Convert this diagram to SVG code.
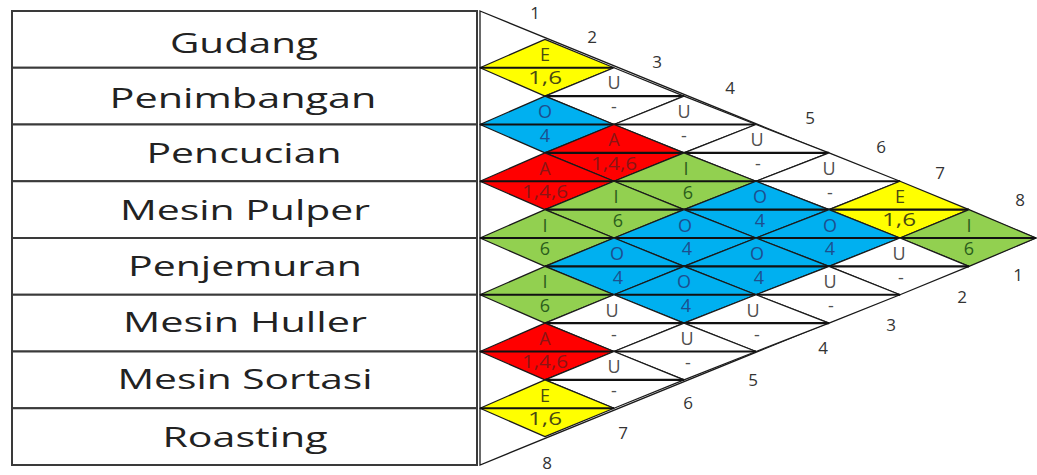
<svg xmlns="http://www.w3.org/2000/svg" width="1037" height="475" viewBox="0 0 1037 475">
<style>
.bg{fill:#ffffff}
.cell{fill:#ffffff;stroke:#3a3a3a;stroke-width:2}
.lbl{font-family:"Open Sans","Liberation Sans",sans-serif;font-size:28px;fill:#222222;text-anchor:middle}
.d{stroke:#1a1a1a;stroke-width:1.3;stroke-linejoin:round}
.mid{stroke:#111111;stroke-width:2.2}
.Y{fill:#FFFF00}.B{fill:#00B0F0}.G{fill:#92D050}.R{fill:#FF0000}.W{fill:#FFFFFF}
.t{font-family:"Open Sans","Liberation Sans",sans-serif;font-size:18px;text-anchor:middle}
.tY{fill:#4a4a12}.tB{fill:#1d4f8f}.tG{fill:#2b5e1c}.tR{fill:#8a1515}.tW{fill:#505050}
.num{font-family:"Open Sans","Liberation Sans",sans-serif;font-size:17px;fill:#333333;text-anchor:middle}
.edge{fill:none;stroke:#1a1a1a;stroke-width:1.3}
</style>
<rect class="bg" x="0" y="0" width="1037" height="475"/>

<g id="table">
<g id="row-1"><rect class="cell" x="12" y="11" width="465" height="56.75"/><text class="lbl" x="244" y="53" textLength="148" lengthAdjust="spacingAndGlyphs">Gudang</text></g>
<g id="row-2"><rect class="cell" x="12" y="67.75" width="465" height="56.75"/><text class="lbl" x="243" y="108" textLength="267" lengthAdjust="spacingAndGlyphs">Penimbangan</text></g>
<g id="row-3"><rect class="cell" x="12" y="124.5" width="465" height="56.75"/><text class="lbl" x="244" y="163" textLength="195" lengthAdjust="spacingAndGlyphs">Pencucian</text></g>
<g id="row-4"><rect class="cell" x="12" y="181.25" width="465" height="56.75"/><text class="lbl" x="245" y="220" textLength="250" lengthAdjust="spacingAndGlyphs">Mesin Pulper</text></g>
<g id="row-5"><rect class="cell" x="12" y="238" width="465" height="56.75"/><text class="lbl" x="245" y="276" textLength="234" lengthAdjust="spacingAndGlyphs">Penjemuran</text></g>
<g id="row-6"><rect class="cell" x="12" y="294.75" width="465" height="56.75"/><text class="lbl" x="245" y="332" textLength="244" lengthAdjust="spacingAndGlyphs">Mesin Huller</text></g>
<g id="row-7"><rect class="cell" x="12" y="351.5" width="465" height="56.75"/><text class="lbl" x="245" y="389" textLength="255" lengthAdjust="spacingAndGlyphs">Mesin Sortasi</text></g>
<g id="row-8"><rect class="cell" x="12" y="408.25" width="465" height="56.75"/><text class="lbl" x="245" y="447" textLength="165" lengthAdjust="spacingAndGlyphs">Roasting</text></g>
</g>

<g id="chart-outline">
<polygon class="edge" points="480,11 1036,238 480,465"/>
</g>

<g id="d-1-2"><polygon class="d Y" points="480,67.75 545,39.4 614,67.75 545,96.1"/><line class="mid" x1="480" y1="67.75" x2="614" y2="67.75"/><text class="t tY" x="545" y="61">E</text><text class="t tY" x="545" y="84" textLength="34" lengthAdjust="spacingAndGlyphs">1,6</text></g>
<g id="d-1-3"><polygon class="d W" points="545,96.1 614,67.75 684,96.1 614,124.5"/><line class="mid" x1="545" y1="96.1" x2="684" y2="96.1"/><text class="t tW" x="614" y="89">U</text><text class="t tW" x="614" y="113">-</text></g>
<g id="d-1-4"><polygon class="d W" points="614,124.5 684,96.1 756,124.5 684,152.9"/><line class="mid" x1="614" y1="124.5" x2="756" y2="124.5"/><text class="t tW" x="684" y="118">U</text><text class="t tW" x="684" y="142">-</text></g>
<g id="d-1-5"><polygon class="d W" points="684,152.9 756,124.5 829,152.9 756,181.25"/><line class="mid" x1="684" y1="152.9" x2="829" y2="152.9"/><text class="t tW" x="757" y="146">U</text><text class="t tW" x="758" y="170">-</text></g>
<g id="d-1-6"><polygon class="d W" points="756,181.25 829,152.9 900,181.25 829,209.6"/><line class="mid" x1="756" y1="181.25" x2="900" y2="181.25"/><text class="t tW" x="829" y="175">U</text><text class="t tW" x="830" y="199">-</text></g>
<g id="d-1-7"><polygon class="d Y" points="829,209.6 900,181.25 969,209.6 900,238"/><line class="mid" x1="829" y1="209.6" x2="969" y2="209.6"/><text class="t tY" x="900" y="203">E</text><text class="t tY" x="899" y="226" textLength="34" lengthAdjust="spacingAndGlyphs">1,6</text></g>
<g id="d-1-8"><polygon class="d G" points="900,238 969,209.6 1036,238 969,266.4"/><line class="mid" x1="900" y1="238" x2="1036" y2="238"/><text class="t tG" x="969" y="232">I</text><text class="t tG" x="969" y="255">6</text></g>

<g id="d-2-3"><polygon class="d B" points="480,124.5 545,96.1 614,124.5 545,152.9"/><line class="mid" x1="480" y1="124.5" x2="614" y2="124.5"/><text class="t tB" x="545" y="118">O</text><text class="t tB" x="545" y="142">4</text></g>
<g id="d-2-4"><polygon class="d R" points="545,152.9 614,124.5 684,152.9 614,181.25"/><line class="mid" x1="545" y1="152.9" x2="684" y2="152.9"/><text class="t tR" x="614" y="146">A</text><text class="t tR" x="614" y="170" textLength="46" lengthAdjust="spacingAndGlyphs">1,4,6</text></g>
<g id="d-2-5"><polygon class="d G" points="614,181.25 684,152.9 756,181.25 684,209.6"/><line class="mid" x1="614" y1="181.25" x2="756" y2="181.25"/><text class="t tG" x="686" y="175">I</text><text class="t tG" x="688" y="199">6</text></g>
<g id="d-2-6"><polygon class="d B" points="684,209.6 756,181.25 829,209.6 756,238"/><line class="mid" x1="684" y1="209.6" x2="829" y2="209.6"/><text class="t tB" x="760" y="203">O</text><text class="t tB" x="760" y="227">4</text></g>
<g id="d-2-7"><polygon class="d B" points="756,238 829,209.6 900,238 829,266.4"/><line class="mid" x1="756" y1="238" x2="900" y2="238"/><text class="t tB" x="830" y="232">O</text><text class="t tB" x="830" y="255">4</text></g>
<g id="d-2-8"><polygon class="d W" points="829,266.4 900,238 969,266.4 900,294.75"/><line class="mid" x1="829" y1="266.4" x2="969" y2="266.4"/><text class="t tW" x="899" y="260">U</text><text class="t tW" x="901" y="284">-</text></g>

<g id="d-3-4"><polygon class="d R" points="480,181.25 545,152.9 614,181.25 545,209.6"/><line class="mid" x1="480" y1="181.25" x2="614" y2="181.25"/><text class="t tR" x="545" y="175">A</text><text class="t tR" x="545" y="198" textLength="46" lengthAdjust="spacingAndGlyphs">1,4,6</text></g>
<g id="d-3-5"><polygon class="d G" points="545,209.6 614,181.25 684,209.6 614,238"/><line class="mid" x1="545" y1="209.6" x2="684" y2="209.6"/><text class="t tG" x="616" y="203">I</text><text class="t tG" x="618" y="227">6</text></g>
<g id="d-3-6"><polygon class="d B" points="614,238 684,209.6 756,238 684,266.4"/><line class="mid" x1="614" y1="238" x2="756" y2="238"/><text class="t tB" x="685" y="232">O</text><text class="t tB" x="687" y="255">4</text></g>
<g id="d-3-7"><polygon class="d B" points="684,266.4 756,238 829,266.4 756,294.75"/><line class="mid" x1="684" y1="266.4" x2="829" y2="266.4"/><text class="t tB" x="757" y="260">O</text><text class="t tB" x="759" y="284">4</text></g>
<g id="d-3-8"><polygon class="d W" points="756,294.75 829,266.4 900,294.75 829,323.1"/><line class="mid" x1="756" y1="294.75" x2="900" y2="294.75"/><text class="t tW" x="830" y="288">U</text><text class="t tW" x="831" y="312">-</text></g>

<g id="d-4-5"><polygon class="d G" points="480,238 545,209.6 614,238 545,266.4"/><line class="mid" x1="480" y1="238" x2="614" y2="238"/><text class="t tG" x="545" y="232">I</text><text class="t tG" x="545" y="255">6</text></g>
<g id="d-4-6"><polygon class="d B" points="545,266.4 614,238 684,266.4 614,294.75"/><line class="mid" x1="545" y1="266.4" x2="684" y2="266.4"/><text class="t tB" x="617" y="260">O</text><text class="t tB" x="618" y="284">4</text></g>
<g id="d-4-7"><polygon class="d B" points="614,294.75 684,266.4 756,294.75 684,323.1"/><line class="mid" x1="614" y1="294.75" x2="756" y2="294.75"/><text class="t tB" x="684" y="288">O</text><text class="t tB" x="686" y="312">4</text></g>
<g id="d-4-8"><polygon class="d W" points="684,323.1 756,294.75 829,323.1 756,351.5"/><line class="mid" x1="684" y1="323.1" x2="829" y2="323.1"/><text class="t tW" x="753" y="317">U</text><text class="t tW" x="757" y="341">-</text></g>

<g id="d-5-6"><polygon class="d G" points="480,294.75 545,266.4 614,294.75 545,323.1"/><line class="mid" x1="480" y1="294.75" x2="614" y2="294.75"/><text class="t tG" x="545" y="288">I</text><text class="t tG" x="545" y="312">6</text></g>
<g id="d-5-7"><polygon class="d W" points="545,323.1 614,294.75 684,323.1 614,351.5"/><line class="mid" x1="545" y1="323.1" x2="684" y2="323.1"/><text class="t tW" x="612" y="317">U</text><text class="t tW" x="614" y="341">-</text></g>
<g id="d-5-8"><polygon class="d W" points="614,351.5 684,323.1 756,351.5 684,379.9"/><line class="mid" x1="614" y1="351.5" x2="756" y2="351.5"/><text class="t tW" x="687" y="345">U</text><text class="t tW" x="688" y="369">-</text></g>

<g id="d-6-7"><polygon class="d R" points="480,351.5 545,323.1 614,351.5 545,379.9"/><line class="mid" x1="480" y1="351.5" x2="614" y2="351.5"/><text class="t tR" x="545" y="345">A</text><text class="t tR" x="545" y="368" textLength="46" lengthAdjust="spacingAndGlyphs">1,4,6</text></g>
<g id="d-6-8"><polygon class="d W" points="545,379.9 614,351.5 684,379.9 614,408.25"/><line class="mid" x1="545" y1="379.9" x2="684" y2="379.9"/><text class="t tW" x="614" y="373">U</text><text class="t tW" x="614" y="397">-</text></g>

<g id="d-7-8"><polygon class="d Y" points="480,408.25 545,379.9 614,408.25 545,436.6"/><line class="mid" x1="480" y1="408.25" x2="614" y2="408.25"/><text class="t tY" x="545" y="402">E</text><text class="t tY" x="545" y="425" textLength="34" lengthAdjust="spacingAndGlyphs">1,6</text></g>

<g id="numbers-top">
<text class="num" x="535" y="19">1</text>
<text class="num" x="592" y="43">2</text>
<text class="num" x="657" y="68">3</text>
<text class="num" x="730" y="94">4</text>
<text class="num" x="810" y="124">5</text>
<text class="num" x="881" y="153">6</text>
<text class="num" x="940" y="179">7</text>
<text class="num" x="1020" y="206">8</text>
</g>
<g id="numbers-bottom">
<text class="num" x="1018" y="281">1</text>
<text class="num" x="962" y="303">2</text>
<text class="num" x="891" y="331">3</text>
<text class="num" x="823" y="354">4</text>
<text class="num" x="753" y="386">5</text>
<text class="num" x="688" y="409">6</text>
<text class="num" x="623" y="439">7</text>
<text class="num" x="547" y="469">8</text>
</g>
</svg>
